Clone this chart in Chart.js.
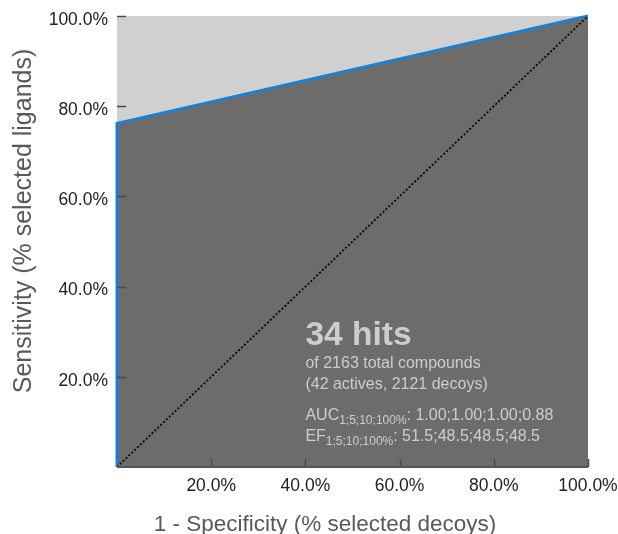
<!DOCTYPE html>
<html>
<head>
<meta charset="utf-8">
<script src="https://cdn.jsdelivr.net/npm/chart.js@4/dist/chart.umd.min.js"></script>
<style>
html,body{margin:0;padding:0;background:#fff;}
#wrap{width:618px;height:534px;}
</style>
</head>
<body>
<div id="wrap"><canvas id="c" width="618" height="534"></canvas></div>
<script>
// ROC curve (x: 1 - specificity %, y: sensitivity %)
const rocX = [0, 0, 100];
const rocY = [0, 76.2, 100];
// random-classifier diagonal
const diagX = [0, 100];
const diagY = [0, 100];
// tick values
const xTicks = [20, 40, 60, 80, 100];
const yTicks = [20, 40, 60, 80, 100];
// axis titles
const xTitle = '1 - Specificity (% selected decoys)';
const yTitle = 'Sensitivity (% selected ligands)';
// annotation texts
const hitsText = '34 hits';
const infoLines = ['of 2163 total compounds', '(42 actives, 2121 decoys)'];
const metricLines = [
  ['AUC', '1;5;10;100%', ': 1.00;1.00;1.00;0.88'],
  ['EF', '1;5;10;100%', ': 51.5;48.5;48.5;48.5']
];
const annotAt = {x: 40, y: 27};

const FONT = "'Liberation Sans', Arial, sans-serif";

const plotBg = {
  id: 'plotBg',
  beforeDatasetsDraw(chart) {
    const {ctx, chartArea: a} = chart;
    ctx.save();
    ctx.fillStyle = '#cfd0cf';
    ctx.fillRect(a.left, a.top, a.right - a.left, a.bottom - a.top);
    ctx.restore();
  }
};

const overlay = {
  id: 'overlay',
  afterDatasetsDraw(chart) {
    const {ctx, chartArea: a, scales} = chart;
    ctx.save();
    // annotation
    const px = scales.x.getPixelForValue(annotAt.x);
    const py = scales.y.getPixelForValue(annotAt.y);
    ctx.fillStyle = '#cdcdcd';
    ctx.textBaseline = 'alphabetic';
    ctx.textAlign = 'left';
    ctx.font = "bold 33.5px " + FONT;
    ctx.fillText(hitsText, px, py);
    ctx.font = "16px " + FONT;
    ctx.fillText(infoLines[0], px, py + 23);
    ctx.fillText(infoLines[1], px, py + 44);
    metricLines.forEach((m, i) => {
      const by = py + 75 + i * 21;
      ctx.font = "16px " + FONT;
      ctx.fillText(m[0], px, by);
      let w = ctx.measureText(m[0]).width;
      ctx.font = "12px " + FONT;
      ctx.fillText(m[1], px + w, by + 4);
      w += ctx.measureText(m[1]).width;
      ctx.font = "16px " + FONT;
      ctx.fillText(m[2], px + w, by);
    });
    // inner tick marks
    ctx.strokeStyle = '#4a4a4a';
    ctx.lineWidth = 1.5;
    xTicks.forEach(v => {
      const x = Math.round(scales.x.getPixelForValue(v)) + 0.5;
      ctx.beginPath();
      ctx.moveTo(x, a.bottom);
      ctx.lineTo(x, a.bottom - 8);
      ctx.stroke();
    });
    yTicks.forEach(v => {
      const y = Math.round(scales.y.getPixelForValue(v)) + 0.5;
      ctx.beginPath();
      ctx.moveTo(a.left, y);
      ctx.lineTo(a.left + 9, y);
      ctx.stroke();
    });
    // bottom axis line
    ctx.strokeStyle = '#555';
    ctx.lineWidth = 2;
    ctx.beginPath();
    ctx.moveTo(a.left, a.bottom);
    ctx.lineTo(a.right, a.bottom);
    ctx.stroke();
    ctx.restore();
  },
  afterDraw(chart) {
    const {ctx} = chart;
    ctx.save();
    ctx.fillStyle = '#595959';
    ctx.textAlign = 'center';
    ctx.textBaseline = 'alphabetic';
    ctx.font = "22.5px " + FONT;
    ctx.fillText(xTitle, 325, 531);
    ctx.translate(31, 221);
    ctx.rotate(-Math.PI / 2);
    ctx.font = "25px " + FONT;
    ctx.fillText(yTitle, 0, 0);
    ctx.restore();
  }
};

const toPts = (xs, ys) => xs.map((x, i) => ({x, y: ys[i]}));

new Chart(document.getElementById('c'), {
  type: 'line',
  data: {
    datasets: [
      {
        data: toPts(diagX, diagY),
        borderColor: '#000',
        borderWidth: 1.7,
        borderDash: [2, 2],
        pointRadius: 0,
        fill: false,
        order: 0
      },
      {
        data: toPts(rocX, rocY),
        borderColor: '#1b7fd3',
        backgroundColor: '#6d6c6b',
        borderWidth: 3,
        pointRadius: 0,
        fill: 'origin',
        tension: 0,
        clip: 4,
        order: 1
      }
    ]
  },
  options: {
    responsive: false,
    animation: false,
    devicePixelRatio: 1,
    layout: {padding: {top: 16, right: 30, left: 0, bottom: 0}},
    plugins: {legend: {display: false}, tooltip: {enabled: false}},
    scales: {
      x: {
        type: 'linear', min: 0, max: 100,
        afterBuildTicks: s => { s.ticks = xTicks.map(v => ({value: v})); },
        afterFit: s => { s.height = 67; s.paddingLeft = 0; s.paddingRight = 0; },
        grid: {display: false, drawTicks: false},
        border: {display: false},
        ticks: {
          padding: 9, color: '#222',
          font: {family: FONT, size: 17.5},
          maxRotation: 0,
          callback: v => v.toFixed(1) + '%'
        }
      },
      y: {
        type: 'linear', min: 0, max: 100,
        afterBuildTicks: s => { s.ticks = yTicks.map(v => ({value: v})); },
        afterFit: s => { s.width = 117; s.paddingTop = 0; s.paddingBottom = 0; },
        grid: {display: false, drawTicks: false},
        border: {display: false},
        ticks: {
          padding: 9, color: '#222',
          labelOffset: 4,
          font: {family: FONT, size: 17.5},
          callback: v => v.toFixed(1) + '%'
        }
      }
    }
  },
  plugins: [plotBg, overlay]
});
</script>
</body>
</html>
